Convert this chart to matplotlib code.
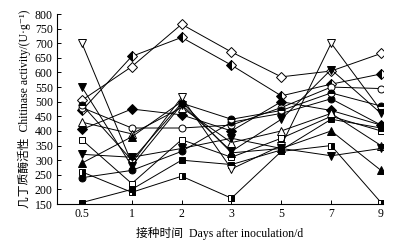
import numpy as np
import matplotlib.pyplot as plt

# sampling days (plotted as evenly spaced categories)
days = ["0.5", "1", "2", "3", "5", "7", "9"]

# chitinase activity, U/g, one list per treatment
open_diamond = [505, 620, 765, 670, 585, 605, 665]
half_diamond = [470, 655, 720, 625, 520, 560, 595]
filled_diamond = [405, 475, 455, 400, 500, 470, 420]
open_circle = [480, 410, 410, 420, 480, 550, 545]
filled_circle = [240, 265, 330, 430, 460, 510, 420]
half_circle = [490, 300, 495, 440, 470, 530, 485]
open_square = [370, 220, 370, 310, 375, 450, 400]
half_square = [260, 190, 245, 170, 330, 350, 155]
filled_square = [155, 200, 300, 285, 335, 440, 410]
open_tri_up = [430, 390, 480, 360, 400, 460, 350]
filled_tri_up = [290, 380, 500, 325, 340, 400, 265]
open_tri_down = [700, 290, 515, 270, 350, 700, 470]
filled_tri_down = [550, 280, 490, 330, 440, 610, 460]
filled_tri_down2 = [320, 310, 340, 375, 340, 315, 340]

series = [
    (open_diamond, "D", "none"),
    (half_diamond, "D", "left"),
    (filled_diamond, "D", "full"),
    (open_circle, "o", "none"),
    (filled_circle, "o", "full"),
    (half_circle, "o", "top"),
    (open_square, "s", "none"),
    (half_square, "s", "right"),
    (filled_square, "s", "full"),
    (open_tri_up, "^", "none"),
    (filled_tri_up, "^", "full"),
    (open_tri_down, "v", "none"),
    (filled_tri_down, "v", "full"),
    (filled_tri_down2, "v", "full"),
]

plt.rcParams["font.family"] = ["Liberation Serif", "Noto Sans CJK SC", "DejaVu Sans"]

fig = plt.figure(figsize=(4.03, 2.45), dpi=100)
ax = fig.add_axes([0.1414, 0.1673, 0.809, 0.7755])

x = np.arange(len(days))
for vals, mk, fs in series:
    ms = 4.6 if mk == "D" else (5.0 if mk in ("o", "s") else 5.5)
    if fs == "none":
        ax.plot(x, vals, color="black", lw=0.7, marker=mk, ms=ms,
                mfc="white", mec="black", mew=0.7)
    elif fs == "full":
        ax.plot(x, vals, color="black", lw=0.7, marker=mk, ms=ms,
                mfc="black", mec="black", mew=0.7)
    else:
        ax.plot(x, vals, color="black", lw=0.7, marker=mk, ms=ms,
                fillstyle=fs, mfc="black", markerfacecoloralt="white",
                mec="black", mew=0.7)

ax.set_xlim(-0.5, 6.04)
ax.set_ylim(150, 800)
ax.set_xticks(x)
ax.set_xticklabels(days)
ax.set_yticks(np.arange(150, 801, 50))
ax.spines["top"].set_visible(False)
ax.spines["right"].set_visible(False)
ax.spines["left"].set_linewidth(0.8)
ax.spines["bottom"].set_linewidth(0.8)
ax.tick_params(direction="in", length=3, width=0.7, labelsize=8.5, pad=3)

ax.set_ylabel("几丁质酶活性  Chitinase activity/(U·g⁻¹)", fontsize=8.5, labelpad=3)
ax.set_xlabel("接种时间  Days after inoculation/d", fontsize=8.5, labelpad=5)

fig.savefig("out.png", dpi=100)
